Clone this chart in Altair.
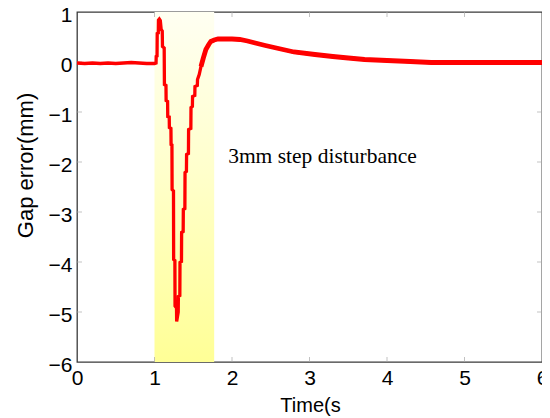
import altair as alt
import pandas as pd

# ---- data ----
time_s = [0.0, 0.1, 0.2, 0.3, 0.4, 0.5, 0.6, 0.7, 0.8, 0.9, 1.0, 1.02,
          1.022, 1.033, 1.035, 1.049, 1.051, 1.062, 1.075, 1.086, 1.1, 1.103, 1.125,
          1.128, 1.148, 1.15, 1.169, 1.171, 1.19, 1.192, 1.212, 1.214, 1.225, 1.227, 1.245,
          1.247, 1.263, 1.265, 1.284, 1.286, 1.306, 1.308, 1.327, 1.329, 1.348, 1.350, 1.37,
          1.372, 1.392, 1.394, 1.412, 1.414, 1.438, 1.440, 1.469, 1.471, 1.489, 1.491, 1.52,
          1.522, 1.553, 1.555, 1.577, 1.6, 1.63, 1.663, 1.7, 1.727, 1.77, 1.82, 1.9, 2.0,
          2.1, 2.2, 2.3, 2.43, 2.6, 2.8, 3.07, 3.3, 3.5, 3.71, 4.0, 4.3, 4.57, 5.0, 5.5, 6.0]
gap_error = [-0.02, -0.03, -0.02, -0.03, -0.02, -0.03, -0.02, -0.01, -0.02, -0.03, -0.03, -0.02,
             0.11, 0.12, 0.57, 0.58, 0.84, 0.86, 0.83, 0.65, 0.62, 0.31, 0.28,
             -0.45, -0.47, -0.77, -0.79, -1.09, -1.1, -1.31, -1.33, -1.65, -1.66, -2.55, -2.58,
             -3.95, -3.97, -4.88, -4.92, -5.19, -5.0, -4.69, -4.67, -4.01, -3.99, -3.41, -3.39,
             -2.95, -2.93, -2.21, -2.19, -1.85, -1.83, -1.35, -1.33, -0.91, -0.89, -0.69, -0.67,
             -0.49, -0.47, -0.35, -0.25, -0.09, 0.08, 0.25, 0.35, 0.41, 0.44, 0.46, 0.46, 0.46,
             0.45, 0.42, 0.38, 0.33, 0.27, 0.2, 0.15, 0.11, 0.08, 0.05, 0.03, 0.01, -0.01, -0.01, -0.01, -0.01]

band_start = [1.0]
band_end = [1.77]
annot_text = ["3mm step disturbance"]
annot_x = [1.95]
annot_y = [-2.02]
x_ticks = [0, 1, 2, 3, 4, 5, 6]
y_ticks = [-6, -5, -4, -3, -2, -1, 0, 1]
x_inner_ticks = [1, 2, 3, 4, 5]
y_inner_ticks = [-5, -4, -3, -2, -1, 0]

W, H = 465, 350
FONT = "Liberation Sans"

df = pd.DataFrame({"t": time_s, "e": gap_error})
band_df = pd.DataFrame({"x0": band_start, "x1": band_end, "ytop": [1], "ybot": [-6]})
annot_df = pd.DataFrame({"t": annot_x, "e": annot_y, "label": annot_text})
xt_df = pd.DataFrame({"t": x_inner_ticks})
yt_df = pd.DataFrame({"e": y_inner_ticks})

xscale = alt.Scale(domain=[0, 6], nice=False, zero=False)
yscale = alt.Scale(domain=[-6, 1], nice=False, zero=False)

xaxis = alt.Axis(values=x_ticks, format="d", title="Time(s", grid=False, ticks=False, tickSize=0,
                 domain=False, labelFont=FONT, labelFontSize=21, labelColor="black",
                 labelPadding=5, labelFlush=False,
                 titleFont=FONT, titleFontSize=20, titleFontWeight="normal",
                 titleColor="black", titleX=233, titleY=49, titleAlign="center",
                 titleBaseline="alphabetic")
yaxis = alt.Axis(values=y_ticks, format="d", title="Gap error(mm)", grid=False, ticks=False,
                 tickSize=0, domain=False, labelFont=FONT, labelFontSize=21, labelColor="black",
                 labelPadding=5, labelFlush=False, labelOffset=3,
                 titleFont=FONT, titleFontSize=22, titleFontWeight="normal",
                 titleColor="black", titleX=-52, titleY=153, titleAngle=270,
                 titleAlign="center", titleBaseline="middle")

band = alt.Chart(band_df).mark_rect(
    fill=alt.Gradient(gradient="linear", x1=0, x2=0, y1=0, y2=1,
                      stops=[alt.GradientStop(color="#FFFFF2", offset=0),
                             alt.GradientStop(color="#FFFFCC", offset=0.45),
                             alt.GradientStop(color="#FFFF96", offset=1)]),
).encode(
    x=alt.X("x0:Q", scale=xscale, axis=xaxis),
    x2="x1:Q",
    y=alt.Y("ytop:Q", scale=yscale, axis=yaxis),
    y2="ybot:Q",
)

line = alt.Chart(df).mark_line(color="#FF0000", strokeWidth=3.3, strokeJoin="miter").encode(
    x=alt.X("t:Q", scale=xscale),
    y=alt.Y("e:Q", scale=yscale),
    order="t:Q",
)

line_tail = alt.Chart(df).transform_filter(alt.datum.t >= 1.6).mark_line(
    color="#FF0000", strokeWidth=4.8).encode(
    x=alt.X("t:Q", scale=xscale),
    y=alt.Y("e:Q", scale=yscale),
    order="t:Q",
)

text = alt.Chart(annot_df).mark_text(
    align="left", baseline="alphabetic", font="Liberation Serif", fontSize=21.5, color="black"
).encode(x=alt.X("t:Q", scale=xscale), y=alt.Y("e:Q", scale=yscale), text="label:N")

tick_color = "#A8A8A8"
xt_bottom = alt.Chart(xt_df).mark_tick(orient="vertical", size=5, thickness=1, color=tick_color).encode(
    x=alt.X("t:Q", scale=xscale), y=alt.value(H - 2.5))
xt_top = alt.Chart(xt_df).mark_tick(orient="vertical", size=5, thickness=1, color=tick_color).encode(
    x=alt.X("t:Q", scale=xscale), y=alt.value(2.5))
yt_left = alt.Chart(yt_df).mark_tick(orient="horizontal", size=5, thickness=1, color=tick_color).encode(
    y=alt.Y("e:Q", scale=yscale), x=alt.value(2.5))
yt_right = alt.Chart(yt_df).mark_tick(orient="horizontal", size=5, thickness=1, color=tick_color).encode(
    y=alt.Y("e:Q", scale=yscale), x=alt.value(W - 2.5))

chart = alt.layer(band, xt_bottom, xt_top, yt_left, yt_right, line, line_tail, text).properties(
    width=W, height=H,
    autosize=alt.AutoSizeParams(type="none"),
    padding={"left": 69, "top": 4, "right": 0, "bottom": 54},
    background="white",
).configure_view(stroke="#3A3A3A", strokeWidth=1.3)

chart.save("out.html", embed_options={"renderer": "svg", "actions": False})
